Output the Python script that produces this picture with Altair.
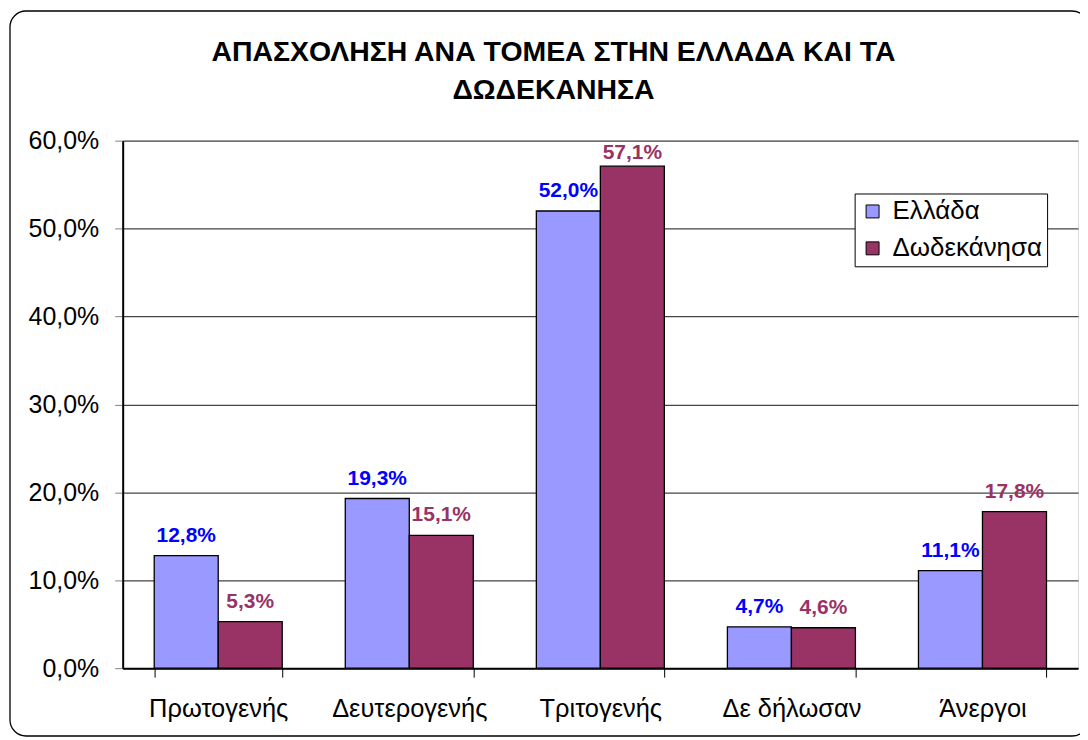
import altair as alt
import pandas as pd

categories = ["Πρωτογενής", "Δευτερογενής", "Τριτογενής", "Δε δήλωσαν", "Άνεργοι"]
series = ["Ελλάδα", "Δωδεκάνησα"]
ellada = [12.8, 19.3, 52.0, 4.7, 11.1]
dodekanisa = [5.3, 15.1, 57.1, 4.6, 17.8]
title_lines = ["ΑΠΑΣΧΟΛΗΣΗ ΑΝΑ ΤΟΜΕΑ ΣΤΗΝ ΕΛΛΑΔΑ ΚΑΙ ΤΑ", "ΔΩΔΕΚΑΝΗΣΑ"]
y_ticks = [0.0, 0.1, 0.2, 0.3, 0.4, 0.5, 0.6]

rows = []
for c, a, b in zip(categories, ellada, dodekanisa):
    rows.append({"cat": c, "series": series[0], "value": a / 100})
    rows.append({"cat": c, "series": series[1], "value": b / 100})
df = pd.DataFrame(rows)

W, H = 958, 529
FONT = "Liberation Sans"
FMT = "replace(format(datum.value, '.1%'), '.', ',')"

x_enc = alt.X(
    "cat:N", sort=categories, title=None,
    scale=alt.Scale(paddingInner=0.33, paddingOuter=0.165),
    axis=alt.Axis(labelAngle=0, labelFontSize=25.5, labelFont=FONT, labelColor="black",
                  labelPadding=19, tickBand="extent", tickSize=9, tickColor="black",
                  tickWidth=1, domainColor="black", domainWidth=2, grid=False,
                  labelLimit=300),
)
xoff = alt.XOffset("series:N", sort=series,
                   scale=alt.Scale(domain=series, paddingInner=0, paddingOuter=0))
y_enc = alt.Y(
    "value:Q", title=None,
    scale=alt.Scale(domain=[0, 0.6], nice=False),
    axis=alt.Axis(values=y_ticks, labelExpr=FMT, labelFontSize=25, labelFont=FONT,
                  labelColor="black", labelPadding=16, tickSize=8, tickColor="#808080",
                  tickWidth=1, domainColor="black", domainWidth=2,
                  gridColor="#454545", gridWidth=1.2),
)

bars = alt.Chart(df).mark_bar(stroke="black", strokeWidth=1.3, opacity=1).encode(
    x=x_enc, xOffset=xoff, y=y_enc,
    color=alt.Color(
        "series:N",
        scale=alt.Scale(domain=series, range=["#9999FF", "#993366"]),
        legend=alt.Legend(
            title=None, orient="none", legendX=734, legendY=53,
            fillColor="white", strokeColor="black", padding=5,
            symbolType="square", symbolSize=169, symbolStrokeColor="black",
            symbolStrokeWidth=1, symbolOpacity=1, labelFontSize=26, labelFont=FONT,
            labelColor="black", rowPadding=11, labelOffset=7, labelLimit=300,
        ),
    ),
)

labels = alt.Chart(df).transform_calculate(
    lbl=FMT, ly="min(datum.value, 0.5637)"
).mark_text(fontSize=21, fontWeight="bold", font=FONT, baseline="alphabetic", dy=-14).encode(
    x=alt.X("cat:N", sort=categories),
    xOffset=alt.XOffset("series:N", sort=series),
    y=alt.Y("ly:Q"),
    text="lbl:N",
    color=alt.condition(alt.datum.series == series[0], alt.value("#0000FF"), alt.value("#993366")),
)

one = pd.DataFrame({"a": [0]})
border = alt.Chart(one).mark_rect(
    fillOpacity=0, stroke="black", strokeWidth=1.3, cornerRadius=16
).encode(x=alt.value(-113), x2=alt.value(968), y=alt.value(-130), y2=alt.value(597))

title = alt.Chart(one).mark_text(
    fontSize=28.5, fontWeight="bold", font=FONT, baseline="alphabetic", align="center",
    lineHeight=38, color="black"
).encode(x=alt.value(432), y=alt.value(-80), text=alt.value(title_lines))

chart = alt.layer(border, bars, labels, title).properties(
    width=W, height=H,
    autosize=alt.AutoSizeParams(type="none"),
    padding={"left": 115, "top": 132, "right": 2, "bottom": 68},
).configure_view(fill="#C0C0C0", stroke="#808080", strokeWidth=1.5).configure(background="white")

chart.save("out.html", embed_options={"renderer": "svg", "actions": False})
